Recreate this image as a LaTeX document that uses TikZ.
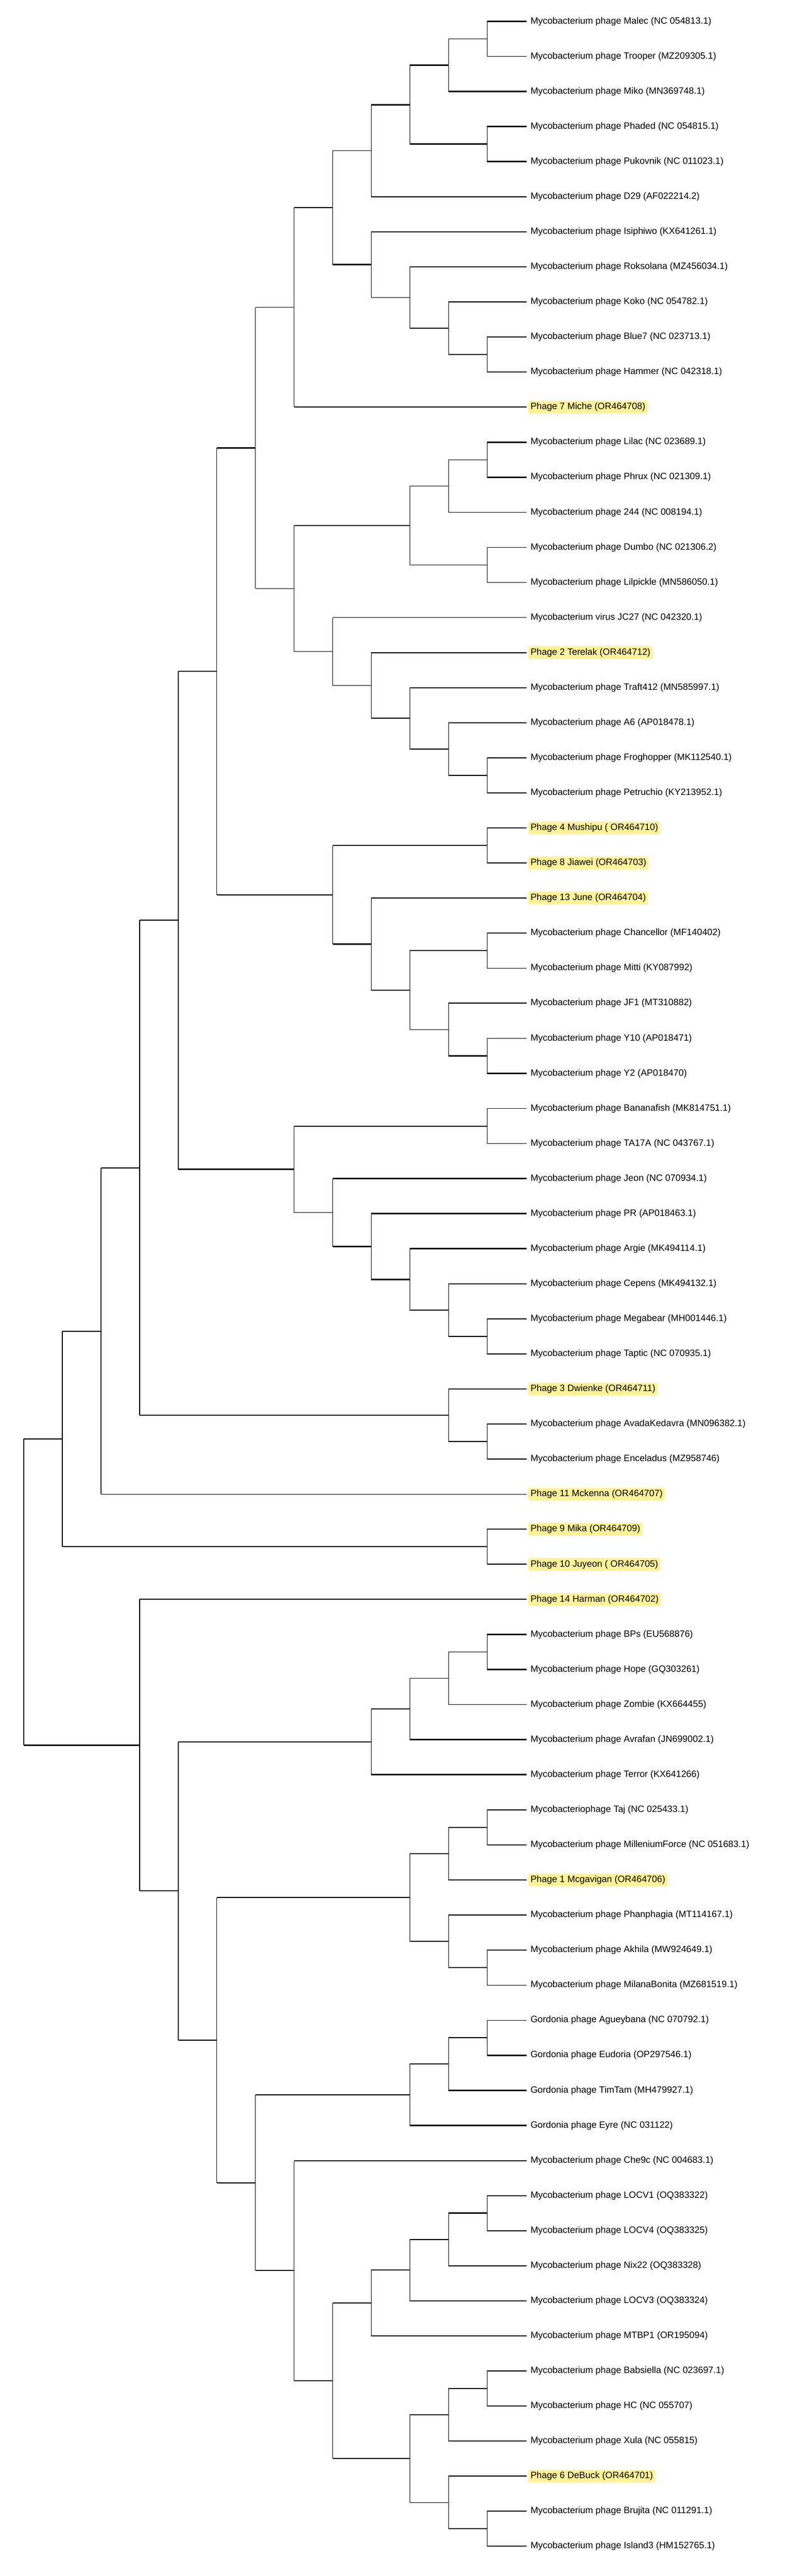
\documentclass[tikz,border=0pt]{standalone}
\usepackage{fontspec}
\setmainfont{Liberation Sans}
\usepackage{tikz}
\definecolor{hlyellow}{RGB}{255,242,153}

\begin{document}
\begin{tikzpicture}[x=81.25pt,y=-73.81pt,line width=1.5pt,
    thickbr/.style={line width=3pt},midbr/.style={line width=2.2pt}]
            \useasboundingbox (-0.6154,-0.6097) rectangle (19.84,72.849);
            \begin{scope}[every node/.style={anchor=west,outer xsep=4pt,inner xsep=4.5pt,inner ysep=0pt,minimum height=27pt,rounded corners=3pt,font=\fontsize{19.4}{23}\selectfont}]
                \node (malec) at (13.02,0) {Mycobacterium phage Malec (NC 054813.1)};
                \node (trooper) at (13.02,1) {Mycobacterium phage Trooper (MZ209305.1)};
                \node (miko) at (13.02,2) {Mycobacterium phage Miko (MN369748.1)};
                \node (phaded) at (13.02,3) {Mycobacterium phage Phaded (NC 054815.1)};
                \node (pukovnik) at (13.02,4) {Mycobacterium phage Pukovnik (NC 011023.1)};
                \node (d29) at (13.02,5) {Mycobacterium phage D29 (AF022214.2)};
                \node (isiphiwo) at (13.02,6) {Mycobacterium phage Isiphiwo (KX641261.1)};
                \node (roksolana) at (13.02,7) {Mycobacterium phage Roksolana (MZ456034.1)};
                \node (koko) at (13.02,8) {Mycobacterium phage Koko (NC 054782.1)};
                \node (blue7) at (13.02,9) {Mycobacterium phage Blue7 (NC 023713.1)};
                \node (hammer) at (13.02,10) {Mycobacterium phage Hammer (NC 042318.1)};
                \node[fill=hlyellow] (miche) at (13.02,11) {Phage 7 Miche (OR464708)};
                \node (lilac) at (13.02,12) {Mycobacterium phage Lilac (NC 023689.1)};
                \node (phrux) at (13.02,13) {Mycobacterium phage Phrux (NC 021309.1)};
                \node (p244) at (13.02,14) {Mycobacterium phage 244 (NC 008194.1)};
                \node (dumbo) at (13.02,15) {Mycobacterium phage Dumbo (NC 021306.2)};
                \node (lilpickle) at (13.02,16) {Mycobacterium phage Lilpickle (MN586050.1)};
                \node (jc27) at (13.02,17) {Mycobacterium virus JC27 (NC 042320.1)};
                \node[fill=hlyellow] (terelak) at (13.02,18) {Phage 2 Terelak (OR464712)};
                \node (traft) at (13.02,19) {Mycobacterium phage Traft412 (MN585997.1)};
                \node (a6) at (13.02,20) {Mycobacterium phage A6 (AP018478.1)};
                \node (froghopper) at (13.02,21) {Mycobacterium phage Froghopper (MK112540.1)};
                \node (petruchio) at (13.02,22) {Mycobacterium phage Petruchio (KY213952.1)};
                \node[fill=hlyellow] (mushipu) at (13.02,23) {Phage 4 Mushipu ( OR464710)};
                \node[fill=hlyellow] (jiawei) at (13.02,24) {Phage 8 Jiawei (OR464703)};
                \node[fill=hlyellow] (june) at (13.02,25) {Phage 13 June (OR464704)};
                \node (chancellor) at (13.02,26) {Mycobacterium phage Chancellor (MF140402)};
                \node (mitti) at (13.02,27) {Mycobacterium phage Mitti (KY087992)};
                \node (jf1) at (13.02,28) {Mycobacterium phage JF1 (MT310882)};
                \node (y10) at (13.02,29) {Mycobacterium phage Y10 (AP018471)};
                \node (y2) at (13.02,30) {Mycobacterium phage Y2 (AP018470)};
                \node (bananafish) at (13.02,31) {Mycobacterium phage Bananafish (MK814751.1)};
                \node (ta17a) at (13.02,32) {Mycobacterium phage TA17A (NC 043767.1)};
                \node (jeon) at (13.02,33) {Mycobacterium phage Jeon (NC 070934.1)};
                \node (pr) at (13.02,34) {Mycobacterium phage PR (AP018463.1)};
                \node (argie) at (13.02,35) {Mycobacterium phage Argie (MK494114.1)};
                \node (cepens) at (13.02,36) {Mycobacterium phage Cepens (MK494132.1)};
                \node (megabear) at (13.02,37) {Mycobacterium phage Megabear (MH001446.1)};
                \node (taptic) at (13.02,38) {Mycobacterium phage Taptic (NC 070935.1)};
                \node[fill=hlyellow] (dwienke) at (13.02,39) {Phage 3 Dwienke (OR464711)};
                \node (avada) at (13.02,40) {Mycobacterium phage AvadaKedavra (MN096382.1)};
                \node (enceladus) at (13.02,41) {Mycobacterium phage Enceladus (MZ958746)};
                \node[fill=hlyellow] (mckenna) at (13.02,42) {Phage 11 Mckenna (OR464707)};
                \node[fill=hlyellow] (mika) at (13.02,43) {Phage 9 Mika (OR464709)};
                \node[fill=hlyellow] (juyeon) at (13.02,44) {Phage 10 Juyeon ( OR464705)};
                \node[fill=hlyellow] (harman) at (13.02,45) {Phage 14 Harman (OR464702)};
                \node (bps) at (13.02,46) {Mycobacterium phage BPs (EU568876)};
                \node (hope) at (13.02,47) {Mycobacterium phage Hope (GQ303261)};
                \node (zombie) at (13.02,48) {Mycobacterium phage Zombie (KX664455)};
                \node (avrafan) at (13.02,49) {Mycobacterium phage Avrafan (JN699002.1)};
                \node (terror) at (13.02,50) {Mycobacterium phage Terror (KX641266)};
                \node (taj) at (13.02,51) {Mycobacteriophage Taj (NC 025433.1)};
                \node (millenium) at (13.02,52) {Mycobacterium phage MilleniumForce (NC 051683.1)};
                \node[fill=hlyellow] (mcgavigan) at (13.02,53) {Phage 1 Mcgavigan (OR464706)};
                \node (phanphagia) at (13.02,54) {Mycobacterium phage Phanphagia (MT114167.1)};
                \node (akhila) at (13.02,55) {Mycobacterium phage Akhila (MW924649.1)};
                \node (milana) at (13.02,56) {Mycobacterium phage MilanaBonita (MZ681519.1)};
                \node (agueybana) at (13.02,57) {Gordonia phage Agueybana (NC 070792.1)};
                \node (eudoria) at (13.02,58) {Gordonia phage Eudoria (OP297546.1)};
                \node (timtam) at (13.02,59) {Gordonia phage TimTam (MH479927.1)};
                \node (eyre) at (13.02,60) {Gordonia phage Eyre (NC 031122)};
                \node (che9c) at (13.02,61) {Mycobacterium phage Che9c (NC 004683.1)};
                \node (locv1) at (13.02,62) {Mycobacterium phage LOCV1 (OQ383322)};
                \node (locv4) at (13.02,63) {Mycobacterium phage LOCV4 (OQ383325)};
                \node (nix22) at (13.02,64) {Mycobacterium phage Nix22 (OQ383328)};
                \node (locv3) at (13.02,65) {Mycobacterium phage LOCV3 (OQ383324)};
                \node (mtbp1) at (13.02,66) {Mycobacterium phage MTBP1 (OR195094)};
                \node (babsiella) at (13.02,67) {Mycobacterium phage Babsiella (NC 023697.1)};
                \node (hc) at (13.02,68) {Mycobacterium phage HC (NC 055707)};
                \node (xula) at (13.02,69) {Mycobacterium phage Xula (NC 055815)};
                \node[fill=hlyellow] (debuck) at (13.02,70) {Phage 6 DeBuck (OR464701)};
                \node (brujita) at (13.02,71) {Mycobacterium phage Brujita (NC 011291.1)};
                \node (island3) at (13.02,72) {Mycobacterium phage Island3 (HM152765.1)};
            \end{scope}
            % inner nodes: x = 13 - height, y = mean of the two children
            \coordinate (n1) at (12,0.5);
            \coordinate (n2) at (11,1.25);
            \coordinate (n3) at (12,3.5);
            \coordinate (n4) at (10,2.375);
            \coordinate (n5) at (9,3.6875);
            \coordinate (n6) at (12,9.5);
            \coordinate (n7) at (11,8.75);
            \coordinate (n8) at (10,7.875);
            \coordinate (n9) at (9,6.9375);
            \coordinate (n10) at (8,5.3125);
            \coordinate (n11) at (7,8.15625);
            \coordinate (n12) at (12,12.5);
            \coordinate (n13) at (11,13.25);
            \coordinate (n14) at (12,15.5);
            \coordinate (n15) at (10,14.375);
            \coordinate (n16) at (12,21.5);
            \coordinate (n17) at (11,20.75);
            \coordinate (n18) at (10,19.875);
            \coordinate (n19) at (9,18.9375);
            \coordinate (n20) at (8,17.96875);
            \coordinate (n21) at (7,16.171875);
            \coordinate (n22) at (6,12.1640625);
            \coordinate (n23) at (12,23.5);
            \coordinate (n24) at (12,26.5);
            \coordinate (n25) at (12,29.5);
            \coordinate (n26) at (11,28.75);
            \coordinate (n27) at (10,27.625);
            \coordinate (n28) at (9,26.3125);
            \coordinate (n29) at (8,24.90625);
            \coordinate (n30) at (5,18.53515625);
            \coordinate (n31) at (12,31.5);
            \coordinate (n32) at (12,37.5);
            \coordinate (n33) at (11,36.75);
            \coordinate (n34) at (10,35.875);
            \coordinate (n35) at (9,34.9375);
            \coordinate (n36) at (8,33.96875);
            \coordinate (n37) at (7,32.734375);
            \coordinate (n38) at (4,25.634766);
            \coordinate (n39) at (12,40.5);
            \coordinate (n40) at (11,39.75);
            \coordinate (n41) at (3,32.692383);
            \coordinate (n42) at (2,37.346191);
            \coordinate (n43) at (12,43.5);
            \coordinate (n44) at (1,40.423096);
            \coordinate (n45) at (12,46.5);
            \coordinate (n46) at (11,47.25);
            \coordinate (n47) at (10,48.125);
            \coordinate (n48) at (9,49.0625);
            \coordinate (n49) at (12,51.5);
            \coordinate (n50) at (11,52.25);
            \coordinate (n51) at (12,55.5);
            \coordinate (n52) at (11,54.75);
            \coordinate (n53) at (10,53.5);
            \coordinate (n54) at (12,57.5);
            \coordinate (n55) at (11,58.25);
            \coordinate (n56) at (10,59.125);
            \coordinate (n57) at (12,62.5);
            \coordinate (n58) at (11,63.25);
            \coordinate (n59) at (10,64.125);
            \coordinate (n60) at (9,65.0625);
            \coordinate (n61) at (12,67.5);
            \coordinate (n62) at (11,68.25);
            \coordinate (n63) at (12,71.5);
            \coordinate (n64) at (11,70.75);
            \coordinate (n65) at (10,69.5);
            \coordinate (n66) at (8,67.28125);
            \coordinate (n67) at (7,64.140625);
            \coordinate (n68) at (6,61.632813);
            \coordinate (n69) at (5,57.566406);
            \coordinate (n70) at (4,53.314453);
            \coordinate (n71) at (3,49.157227);
            \coordinate (root) at (0,44.790161);
            % branches
            \draw (n1 |- malec) -- (n1 |- trooper) (n1 |- malec) edge[thickbr] (malec) (n1 |- trooper) edge (trooper);
            \draw (n2 |- n1) -- (n2 |- miko) (n2 |- n1) edge (n1) (n2 |- miko) edge[thickbr] (miko);
            \draw (n3 |- phaded) -- (n3 |- pukovnik) (n3 |- phaded) edge[thickbr] (phaded) (n3 |- pukovnik) edge[thickbr] (pukovnik);
            \draw (n4 |- n2) -- (n4 |- n3) (n4 |- n2) edge[thickbr] (n2) (n4 |- n3) edge[thickbr] (n3);
            \draw (n5 |- n4) -- (n5 |- d29) (n5 |- n4) edge[thickbr] (n4) (n5 |- d29) edge (d29);
            \draw (n6 |- blue7) -- (n6 |- hammer) (n6 |- blue7) edge[midbr] (blue7) (n6 |- hammer) edge[midbr] (hammer);
            \draw (n7 |- koko) -- (n7 |- n6) (n7 |- koko) edge[thickbr] (koko) (n7 |- n6) edge (n6);
            \draw (n8 |- roksolana) -- (n8 |- n7) (n8 |- roksolana) edge (roksolana) (n8 |- n7) edge (n7);
            \draw (n9 |- isiphiwo) -- (n9 |- n8) (n9 |- isiphiwo) edge (isiphiwo) (n9 |- n8) edge (n8);
            \draw (n10 |- n5) -- (n10 |- n9) (n10 |- n5) edge (n5) (n10 |- n9) edge[thickbr] (n9);
            \draw (n11 |- n10) -- (n11 |- miche) (n11 |- n10) edge[thickbr] (n10) (n11 |- miche) edge[midbr] (miche);
            \draw (n12 |- lilac) -- (n12 |- phrux) (n12 |- lilac) edge[thickbr] (lilac) (n12 |- phrux) edge[thickbr] (phrux);
            \draw (n13 |- n12) -- (n13 |- p244) (n13 |- n12) edge (n12) (n13 |- p244) edge (p244);
            \draw (n14 |- dumbo) -- (n14 |- lilpickle) (n14 |- dumbo) edge (dumbo) (n14 |- lilpickle) edge (lilpickle);
            \draw (n15 |- n13) -- (n15 |- n14) (n15 |- n13) edge (n13) (n15 |- n14) edge (n14);
            \draw (n16 |- froghopper) -- (n16 |- petruchio) (n16 |- froghopper) edge[midbr] (froghopper) (n16 |- petruchio) edge[midbr] (petruchio);
            \draw (n17 |- a6) -- (n17 |- n16) (n17 |- a6) edge[midbr] (a6) (n17 |- n16) edge (n16);
            \draw (n18 |- traft) -- (n18 |- n17) (n18 |- traft) edge[midbr] (traft) (n18 |- n17) edge (n17);
            \draw (n19 |- terelak) -- (n19 |- n18) (n19 |- terelak) edge[midbr] (terelak) (n19 |- n18) edge[midbr] (n18);
            \draw (n20 |- jc27) -- (n20 |- n19) (n20 |- jc27) edge (jc27) (n20 |- n19) edge (n19);
            \draw (n21 |- n15) -- (n21 |- n20) (n21 |- n15) edge[thickbr] (n15) (n21 |- n20) edge (n20);
            \draw (n22 |- n11) -- (n22 |- n21) (n22 |- n11) edge (n11) (n22 |- n21) edge (n21);
            \draw (n23 |- mushipu) -- (n23 |- jiawei) (n23 |- mushipu) edge[midbr] (mushipu) (n23 |- jiawei) edge[midbr] (jiawei);
            \draw (n24 |- chancellor) -- (n24 |- mitti) (n24 |- chancellor) edge[midbr] (chancellor) (n24 |- mitti) edge (mitti);
            \draw (n25 |- y10) -- (n25 |- y2) (n25 |- y10) edge (y10) (n25 |- y2) edge[midbr] (y2);
            \draw (n26 |- jf1) -- (n26 |- n25) (n26 |- jf1) edge[midbr] (jf1) (n26 |- n25) edge[thickbr] (n25);
            \draw (n27 |- n24) -- (n27 |- n26) (n27 |- n24) edge[midbr] (n24) (n27 |- n26) edge (n26);
            \draw (n28 |- june) -- (n28 |- n27) (n28 |- june) edge[midbr] (june) (n28 |- n27) edge (n27);
            \draw (n29 |- n23) -- (n29 |- n28) (n29 |- n23) edge[midbr] (n23) (n29 |- n28) edge[midbr] (n28);
            \draw (n30 |- n22) -- (n30 |- n29) (n30 |- n22) edge[thickbr] (n22) (n30 |- n29) edge[midbr] (n29);
            \draw (n31 |- bananafish) -- (n31 |- ta17a) (n31 |- bananafish) edge (bananafish) (n31 |- ta17a) edge (ta17a);
            \draw (n32 |- megabear) -- (n32 |- taptic) (n32 |- megabear) edge[midbr] (megabear) (n32 |- taptic) edge[midbr] (taptic);
            \draw (n33 |- cepens) -- (n33 |- n32) (n33 |- cepens) edge[thickbr] (cepens) (n33 |- n32) edge[midbr] (n32);
            \draw (n34 |- argie) -- (n34 |- n33) (n34 |- argie) edge[thickbr] (argie) (n34 |- n33) edge (n33);
            \draw (n35 |- pr) -- (n35 |- n34) (n35 |- pr) edge[thickbr] (pr) (n35 |- n34) edge[thickbr] (n34);
            \draw (n36 |- jeon) -- (n36 |- n35) (n36 |- jeon) edge[thickbr] (jeon) (n36 |- n35) edge[thickbr] (n35);
            \draw (n37 |- n31) -- (n37 |- n36) (n37 |- n31) edge[midbr] (n31) (n37 |- n36) edge (n36);
            \draw (n38 |- n30) -- (n38 |- n37) (n38 |- n30) edge (n30) (n38 |- n37) edge[thickbr] (n37);
            \draw (n39 |- avada) -- (n39 |- enceladus) (n39 |- avada) edge[midbr] (avada) (n39 |- enceladus) edge[midbr] (enceladus);
            \draw (n40 |- dwienke) -- (n40 |- n39) (n40 |- dwienke) edge[midbr] (dwienke) (n40 |- n39) edge (n39);
            \draw (n41 |- n38) -- (n41 |- n40) (n41 |- n38) edge[midbr] (n38) (n41 |- n40) edge (n40);
            \draw (n42 |- n41) -- (n42 |- mckenna) (n42 |- n41) edge[midbr] (n41) (n42 |- mckenna) edge (mckenna);
            \draw (n43 |- mika) -- (n43 |- juyeon) (n43 |- mika) edge[midbr] (mika) (n43 |- juyeon) edge[midbr] (juyeon);
            \draw (n44 |- n42) -- (n44 |- n43) (n44 |- n42) edge[midbr] (n42) (n44 |- n43) edge[midbr] (n43);
            \draw (n45 |- bps) -- (n45 |- hope) (n45 |- bps) edge[thickbr] (bps) (n45 |- hope) edge[thickbr] (hope);
            \draw (n46 |- n45) -- (n46 |- zombie) (n46 |- n45) edge (n45) (n46 |- zombie) edge (zombie);
            \draw (n47 |- n46) -- (n47 |- avrafan) (n47 |- n46) edge (n46) (n47 |- avrafan) edge[thickbr] (avrafan);
            \draw (n48 |- n47) -- (n48 |- terror) (n48 |- n47) edge (n47) (n48 |- terror) edge[thickbr] (terror);
            \draw (n49 |- taj) -- (n49 |- millenium) (n49 |- taj) edge[midbr] (taj) (n49 |- millenium) edge[midbr] (millenium);
            \draw (n50 |- n49) -- (n50 |- mcgavigan) (n50 |- n49) edge (n49) (n50 |- mcgavigan) edge[midbr] (mcgavigan);
            \draw (n51 |- akhila) -- (n51 |- milana) (n51 |- akhila) edge (akhila) (n51 |- milana) edge (milana);
            \draw (n52 |- phanphagia) -- (n52 |- n51) (n52 |- phanphagia) edge (phanphagia) (n52 |- n51) edge (n51);
            \draw (n53 |- n50) -- (n53 |- n52) (n53 |- n50) edge[midbr] (n50) (n53 |- n52) edge (n52);
            \draw (n54 |- agueybana) -- (n54 |- eudoria) (n54 |- agueybana) edge (agueybana) (n54 |- eudoria) edge[thickbr] (eudoria);
            \draw (n55 |- n54) -- (n55 |- timtam) (n55 |- n54) edge[midbr] (n54) (n55 |- timtam) edge[thickbr] (timtam);
            \draw (n56 |- n55) -- (n56 |- eyre) (n56 |- n55) edge[midbr] (n55) (n56 |- eyre) edge[thickbr] (eyre);
            \draw (n57 |- locv1) -- (n57 |- locv4) (n57 |- locv1) edge[midbr] (locv1) (n57 |- locv4) edge[midbr] (locv4);
            \draw (n58 |- n57) -- (n58 |- nix22) (n58 |- n57) edge[thickbr] (n57) (n58 |- nix22) edge[midbr] (nix22);
            \draw (n59 |- n58) -- (n59 |- locv3) (n59 |- n58) edge[midbr] (n58) (n59 |- locv3) edge[midbr] (locv3);
            \draw (n60 |- n59) -- (n60 |- mtbp1) (n60 |- n59) edge[midbr] (n59) (n60 |- mtbp1) edge[midbr] (mtbp1);
            \draw (n61 |- babsiella) -- (n61 |- hc) (n61 |- babsiella) edge[thickbr] (babsiella) (n61 |- hc) edge[thickbr] (hc);
            \draw (n62 |- n61) -- (n62 |- xula) (n62 |- n61) edge[thickbr] (n61) (n62 |- xula) edge[thickbr] (xula);
            \draw (n63 |- brujita) -- (n63 |- island3) (n63 |- brujita) edge[midbr] (brujita) (n63 |- island3) edge[midbr] (island3);
            \draw (n64 |- debuck) -- (n64 |- n63) (n64 |- debuck) edge[midbr] (debuck) (n64 |- n63) edge[midbr] (n63);
            \draw (n65 |- n62) -- (n65 |- n64) (n65 |- n62) edge[midbr] (n62) (n65 |- n64) edge (n64);
            \draw (n66 |- n60) -- (n66 |- n65) (n66 |- n60) edge[midbr] (n60) (n66 |- n65) edge[midbr] (n65);
            \draw (n67 |- che9c) -- (n67 |- n66) (n67 |- che9c) edge[midbr] (che9c) (n67 |- n66) edge (n66);
            \draw (n68 |- n56) -- (n68 |- n67) (n68 |- n56) edge[thickbr] (n56) (n68 |- n67) edge[midbr] (n67);
            \draw (n69 |- n53) -- (n69 |- n68) (n69 |- n53) edge[midbr] (n53) (n69 |- n68) edge[midbr] (n68);
            \draw (n70 |- n48) -- (n70 |- n69) (n70 |- n48) edge[thickbr] (n48) (n70 |- n69) edge (n69);
            \draw (n71 |- harman) -- (n71 |- n70) (n71 |- harman) edge[midbr] (harman) (n71 |- n70) edge[midbr] (n70);
            \draw (root |- n44) -- (root |- n71) (root |- n44) edge[midbr] (n44) (root |- n71) edge[thickbr] (n71);
        \end{tikzpicture}
\end{document}
